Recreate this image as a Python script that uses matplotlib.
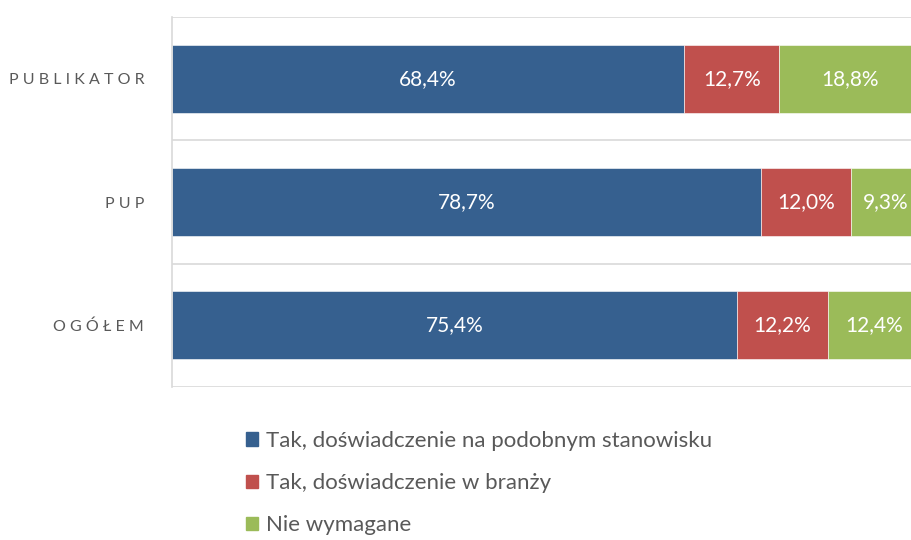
import numpy as np
from matplotlib import pyplot as plt
from matplotlib.patches import Patch

plt.rcParams['font.family'] = ['Lato', 'DejaVu Sans']

categories = ['PUBLIKATOR', 'PUP', 'OGÓŁEM']
series = ['Tak, doświadczenie na podobnym stanowisku',
          'Tak, doświadczenie w branży',
          'Nie wymagane']
similar_job = [68.4, 78.7, 75.4]
industry = [12.7, 12.0, 12.2]
not_required = [18.8, 9.3, 12.4]

colors = ['#36608F', '#C0504D', '#9BBB59']
values = [similar_job, industry, not_required]

fig = plt.figure(figsize=(9.11, 5.4), dpi=100)
# plot area runs a bit past the right edge, like in the source
ax = fig.add_axes([172 / 911, 153 / 540, 749 / 911, 370 / 540])

y = np.arange(len(categories))
left = np.zeros(len(categories))
for vals, col, name in zip(values, colors, series):
    bars = ax.barh(y, vals, height=0.55, left=left, color=col,
                   edgecolor='white', linewidth=0.4, label=name)
    for b, v in zip(bars, vals):
        ax.text(b.get_x() + b.get_width() / 2, b.get_y() + b.get_height() / 2,
                f'{v:.1f}%'.replace('.', ','), ha='center', va='center',
                color='white', fontsize=15)
    left += np.array(vals)

ax.set_xlim(0, 100)
ax.set_ylim(len(categories) - 0.5, -0.5)
for b in np.arange(-0.5, len(categories), 1):
    ax.axhline(b, color='#D9D9D9', lw=1.2, zorder=0)

ax.set_yticks(y)
ax.set_yticklabels([' '.join(c) for c in categories], fontsize=11.5, color='#595959')
ax.tick_params(axis='y', length=0, pad=20)
ax.set_xticks([])
for s in ['top', 'right', 'bottom']:
    ax.spines[s].set_visible(False)
ax.spines['left'].set_color('#D9D9D9')
ax.spines['left'].set_linewidth(1.2)

handles = [Patch(color=c) for c in colors]
fig.legend(handles, series, loc='upper left', bbox_to_anchor=(226 / 911, 1 - 411 / 540),
           frameon=False, fontsize=16, handlelength=0.55, handleheight=0.55,
           handletextpad=0.35, labelspacing=1.0, labelcolor='#595959')

fig.savefig('out.png', dpi=100)
